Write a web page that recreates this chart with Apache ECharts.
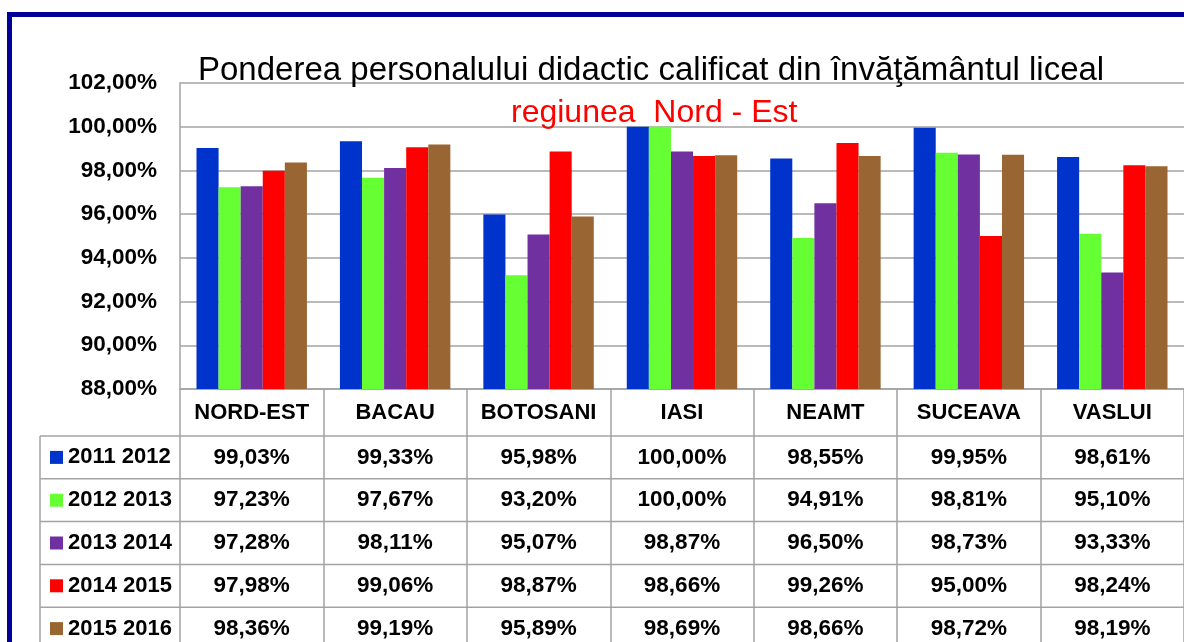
<!DOCTYPE html>
<html>
<head>
<meta charset="utf-8">
<title>Ponderea personalului didactic calificat</title>
<script src="https://cdn.jsdelivr.net/npm/echarts@6/dist/echarts.min.js"></script>
<style>
  html, body { margin: 0; padding: 0; background: #ffffff; }
  #chart { width: 1184px; height: 642px; }
</style>
</head>
<body>
<div id="chart"></div>
<script>
// Counties of the Nord-Est region (first column is the regional total)
const counties = ['NORD-EST', 'BACAU', 'BOTOSANI', 'IASI', 'NEAMT', 'SUCEAVA', 'VASLUI'];

// School years shown as series
const schoolYears = ['2011 2012', '2012 2013', '2013 2014', '2014 2015', '2015 2016'];

// Share of qualified teaching staff in high schools (%)
const share2011_2012 = [99.03, 99.33, 95.98, 100.00, 98.55, 99.95, 98.61];
const share2012_2013 = [97.23, 97.67, 93.20, 100.00, 94.91, 98.81, 95.10];
const share2013_2014 = [97.28, 98.11, 95.07, 98.87, 96.50, 98.73, 93.33];
const share2014_2015 = [97.98, 99.06, 98.87, 98.66, 99.26, 95.00, 98.24];
const share2015_2016 = [98.36, 99.19, 95.89, 98.69, 98.66, 98.72, 98.19];

// Value axis range and step
const axisMin = 88;
const axisMax = 102;
const axisStep = 2;

const seriesValues = [share2011_2012, share2012_2013, share2013_2014, share2014_2015, share2015_2016];
const yearColors = ['#0033CC', '#66FF33', '#7030A0', '#FF0000', '#996633'];

const FONT = "'Liberation Sans', Arial, sans-serif";
const LINE = '#a3a3a3';

// Geometry of the plot and of the data table underneath it
const gridLeft = 180, gridTop = 83, gridWidth = 1006, gridHeight = 306;
const headerH = 47, rowH = 42.8;

const pct = v => v.toFixed(2).replace('.', ',') + '%';

const chart = echarts.init(document.getElementById('chart'), null, { renderer: 'canvas' });

// Horizontal rules of the data table
const tableTop = gridTop + gridHeight;
const tableLines = [];
for (let k = 0; k < schoolYears.length; k++) {
  const y = tableTop + headerH + k * rowH;
  tableLines.push({
    type: 'line', silent: true,
    shape: { x1: 40, y1: y, x2: 1184, y2: y },
    style: { stroke: LINE, lineWidth: 1.5 }
  });
}
// Left edge of the legend column
tableLines.push({
  type: 'line', silent: true,
  shape: { x1: 40, y1: tableTop + headerH, x2: 40, y2: 642 },
  style: { stroke: LINE, lineWidth: 1.5 }
});

// Rich text style names for the category label: header + one row per year
const rowKeys = ['a', 'b', 'c', 'd', 'e'];
const richStyles = {
  h: { fontFamily: FONT, fontWeight: 'bold', fontSize: 22, color: '#000', lineHeight: headerH, align: 'center' }
};
rowKeys.forEach(k => {
  richStyles[k] = { fontFamily: FONT, fontWeight: 'bold', fontSize: 22.5, color: '#000', lineHeight: rowH, align: 'center' };
});

const option = {
  backgroundColor: '#ffffff',
  animation: false,
  title: [
    {
      text: 'Ponderea personalului didactic calificat din învăţământul liceal',
      left: 198, top: 54, padding: 0,
      textStyle: { fontFamily: FONT, fontWeight: 'normal', fontSize: 33, color: '#000' }
    },
    {
      text: 'regiunea  Nord - Est',
      left: 511, top: 97, padding: 0,
      textStyle: { fontFamily: FONT, fontWeight: 'normal', fontSize: 32, color: '#FF0000' }
    }
  ],
  legend: {
    orient: 'vertical',
    left: 50, top: tableTop + headerH,
    height: 260,
    padding: 0, itemGap: 0,
    itemWidth: 13, itemHeight: 13,
    icon: 'rect',
    selectedMode: false,
    data: schoolYears,
    textStyle: { fontFamily: FONT, fontWeight: 'bold', fontSize: 22, color: '#000', lineHeight: rowH }
  },
  grid: { left: gridLeft, top: gridTop, width: gridWidth, height: gridHeight, containLabel: false },
  xAxis: {
    type: 'category',
    data: counties,
    axisLine: { show: true, lineStyle: { color: LINE, width: 1.5 } },
    axisTick: { show: true, interval: 0, length: 260, lineStyle: { color: LINE, width: 1.5 } },
    axisLabel: {
      interval: 0, margin: 0,
      formatter: (value, idx) => {
        const lines = ['{h|' + value + '}'];
        seriesValues.forEach((arr, s) => lines.push('{' + rowKeys[s] + '|' + pct(arr[idx]) + '}'));
        return lines.join('\n');
      },
      rich: richStyles
    }
  },
  yAxis: {
    type: 'value',
    min: axisMin, max: axisMax, interval: axisStep,
    axisLine: { show: true, lineStyle: { color: LINE, width: 1.5 } },
    axisTick: { show: false },
    splitLine: { show: true, lineStyle: { color: LINE, width: 1.5 } },
    axisLabel: {
      margin: 23,
      formatter: v => pct(v),
      fontFamily: FONT, fontWeight: 'bold', fontSize: 22.5, color: '#000'
    }
  },
  series: schoolYears.map((name, s) => ({
    name: name,
    type: 'bar',
    data: seriesValues[s],
    barGap: '0%',
    barCategoryGap: '23%',
    itemStyle: { color: yearColors[s] },
    clip: true
  })),
  graphic: [
    ...tableLines,
    {
      // navy frame around the figure
      type: 'rect', silent: true, z: 100,
      shape: { x: 9.5, y: 14.5, width: 1300, height: 800 },
      style: { fill: 'none', stroke: '#000099', lineWidth: 5 }
    }
  ]
};

chart.setOption(option);
</script>
</body>
</html>
